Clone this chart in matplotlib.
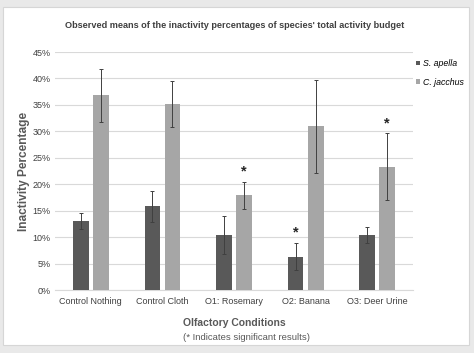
import matplotlib
matplotlib.use("Agg")
import matplotlib.pyplot as plt
import numpy as np
from matplotlib.patches import Rectangle

# data
conditions = ["Control Nothing", "Control Cloth", "O1: Rosemary", "O2: Banana", "O3: Deer Urine"]
apella = [13.1, 15.8, 10.4, 6.3, 10.4]
apella_err = [1.5, 3.0, 3.6, 2.6, 1.6]
jacchus = [36.8, 35.2, 17.9, 31.0, 23.3]
jacchus_err = [5.0, 4.4, 2.5, 8.8, 6.3]
apella_sig = [False, False, False, True, False]
jacchus_sig = [False, False, True, False, True]
yticks = np.arange(0, 46, 5)

plt.rcParams['font.family'] = ['Liberation Sans', 'DejaVu Sans']

fig = plt.figure(figsize=(4.74, 3.53), dpi=100)
fig.patch.set_facecolor("#e9e9e9")
fig.patches.append(Rectangle((3 / 474, 8 / 353), 466 / 474, 338 / 353, transform=fig.transFigure,
                             facecolor="white", edgecolor="#d6d6d6", lw=0.8, zorder=-5))

ax = fig.add_axes([55 / 474, 1 - 290 / 353, 358 / 474, 238 / 353])
ax.set_facecolor("none")

x = np.arange(len(conditions))
w = 0.22
off = 0.14
dark = "#595959"
light = "#a6a6a6"
ekw = dict(ecolor="#404040", elinewidth=0.7, capsize=1.2, capthick=0.7)

ax.bar(x - off, apella, w, color=dark, label="S. apella", zorder=3)
ax.bar(x + off, jacchus, w, color=light, label="C. jacchus", zorder=3)
ax.errorbar(x - off, apella, yerr=apella_err, fmt="none", zorder=4, **ekw)
ax.errorbar(x + off, jacchus, yerr=jacchus_err, fmt="none", zorder=4, **ekw)

# significance stars
for xs, vals, errs, sig in [(x - off, apella, apella_err, apella_sig),
                            (x + off, jacchus, jacchus_err, jacchus_sig)]:
    for xi, v, e, s in zip(xs, vals, errs, sig):
        if s:
            ax.annotate("*", (xi, v + e), xytext=(0, 2.5), textcoords="offset points",
                        ha="center", va="bottom", fontsize=10.5, fontweight="bold", color="#262626")

ax.set_xlim(-0.5, len(conditions) - 0.5)
ax.set_ylim(0, 45)
ax.set_yticks(yticks)
ax.set_yticklabels([f"{t}%" for t in yticks])
ax.set_xticks(x)
ax.set_xticklabels(conditions)
ax.yaxis.grid(True, color="#d9d9d9", lw=0.8, zorder=0)
ax.set_axisbelow(True)
for sp in ["top", "right", "left"]:
    ax.spines[sp].set_visible(False)
ax.spines["bottom"].set_color("#d9d9d9")
ax.tick_params(axis="both", length=0, labelsize=6.5, colors="#404040")
ax.tick_params(axis="x", pad=5)
ax.tick_params(axis="y", pad=3)

ax.set_ylabel("Inactivity Percentage", fontsize=8.6, fontweight="bold", color="#595959", labelpad=2)
fig.text(234 / 474, 1 - 323 / 353, "Olfactory Conditions", ha="center", va="center",
         fontsize=7.5, fontweight="bold", color="#595959")
fig.text(247 / 474, 1 - 337 / 353, "(* Indicates significant results)", ha="center", va="center",
         fontsize=6.8, color="#595959")
fig.text(235 / 474, 1 - 25 / 353,
         "Observed means of the inactivity percentages of species' total activity budget",
         ha="center", va="center", fontsize=6.6, fontweight="bold", color="#404040")

ax.legend(loc="upper left", bbox_to_anchor=(416 / 474, 1 - 59 / 353), bbox_transform=fig.transFigure,
          frameon=False, prop=dict(size=6.3, style="italic"), handlelength=0.45, handleheight=0.45,
          handletextpad=0.35, labelspacing=1.1, borderaxespad=0, borderpad=0)

fig.savefig("out.png", dpi=100)
